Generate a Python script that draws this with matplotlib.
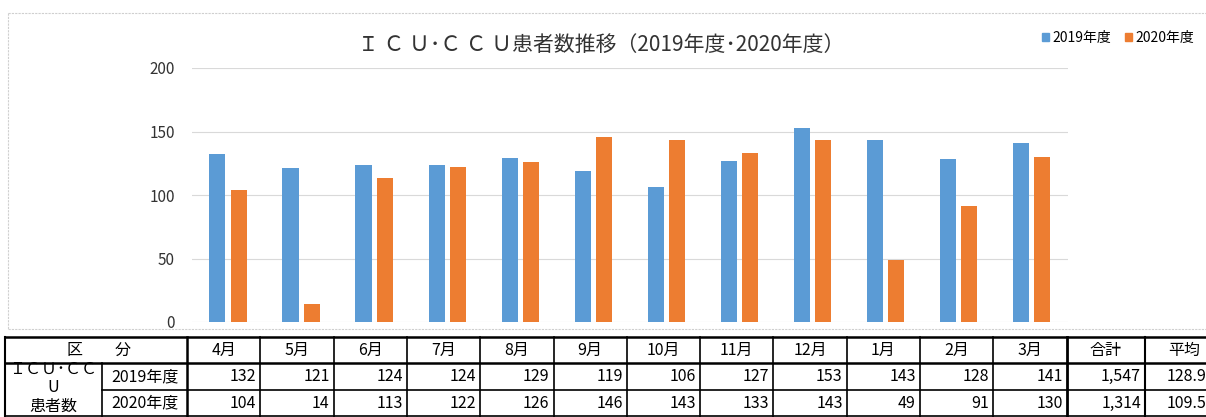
import matplotlib.pyplot as plt
from matplotlib.lines import Line2D
from matplotlib.patches import Patch

plt.rcParams['font.family'] = ['Noto Sans CJK JP', 'DejaVu Sans']

# データ
months = ["4月", "5月", "6月", "7月", "8月", "9月", "10月", "11月", "12月", "1月", "2月", "3月"]
series_names = ["2019年度", "2020年度"]
v2019 = [132, 121, 124, 124, 129, 119, 106, 127, 153, 143, 128, 141]
v2020 = [104, 14, 113, 122, 126, 146, 143, 133, 143, 49, 91, 130]
totals = ["1,547", "1,314"]
averages = ["128.9", "109.5"]
yticks = [0, 50, 100, 150, 200]

blue = "#5B9BD5"
orange = "#ED7D31"

W, H = 1206, 417
fig = plt.figure(figsize=(W / 100, H / 100), dpi=100)


def fx(px):
    return px / W


def fy(py):
    return 1 - py / H


# グラフ
ax = fig.add_axes([fx(191.5), fy(322), fx(1068) - fx(191.5), fy(68) - fy(322)])
x = list(range(len(months)))
ax.bar([i - 0.145 for i in x], v2019, width=0.22, color=blue, zorder=3)
ax.bar([i + 0.145 for i in x], v2020, width=0.22, color=orange, zorder=3)
ax.set_xlim(-0.5, len(months) - 0.5)
ax.set_ylim(0, 200)
ax.set_yticks(yticks)
ax.set_xticks([])
ax.grid(axis="y", color="#d9d9d9", lw=0.8, zorder=0)
for s in ax.spines.values():
    s.set_visible(False)
ax.tick_params(axis="y", length=0, labelsize=11, labelcolor="#333333", pad=12)

fig.text(fx(601), fy(45), "Ｉ Ｃ Ｕ･Ｃ Ｃ Ｕ患者数推移（2019年度･2020年度）",
         ha="center", va="center", fontsize=15, color="#333333")

handles = [Patch(color=blue), Patch(color=orange)]
fig.legend(handles, series_names, loc="center right", bbox_to_anchor=(fx(1200), fy(38)),
           ncol=2, frameon=False, fontsize=10, handlelength=0.5, handleheight=0.5,
           handletextpad=0.25, columnspacing=1.0, borderaxespad=0)

# グラフ枠
border = dict(color="#cfcfcf", lw=0.8, ls=(0, (2, 1)))
fig.add_artist(Line2D([fx(8), fx(1206)], [fy(13), fy(13)], **border))
fig.add_artist(Line2D([fx(8), fx(8)], [fy(13), fy(329)], **border))
fig.add_artist(Line2D([fx(8), fx(1206)], [fy(329), fy(329)], **border))

# 表
top, hdr, r1, r2 = 337, 363, 390, 416
col0, col1, col2 = 5, 102, 187
cw = 73.3
mcols = [col2 + cw * k for k in range(13)]
c_total = 1145
c_right = 1223


def hline(y, x0, x1, lw=1.8):
    fig.add_artist(Line2D([fx(x0), fx(x1)], [fy(y), fy(y)], color="black", lw=lw))


def vline(xp, y0, y1, lw=1.5):
    fig.add_artist(Line2D([fx(xp), fx(xp)], [fy(y0), fy(y1)], color="black", lw=lw))


hline(top, col0, W)
hline(hdr, col0, W)
hline(r1, col1, W, lw=1.2)
hline(r2, col0, W, lw=1.2)
vline(col0, top, H)
vline(col1, hdr, H, lw=1.2)
vline(col2, top, H, lw=1.8)
for k, xp in enumerate(mcols[1:]):
    vline(xp, top, H, lw=2.0 if k == 11 else 1.2)
vline(c_total, top, H, lw=1.5)

fs = 11.5
fig.text(fx(99), fy(350), "区　　分", ha="center", va="center", fontsize=fs)
for i, m in enumerate(months):
    fig.text(fx((mcols[i] + mcols[i + 1]) / 2), fy(350), m, ha="center", va="center", fontsize=fs)
fig.text(fx((mcols[12] + c_total) / 2), fy(350), "合計", ha="center", va="center", fontsize=fs)
fig.text(fx((c_total + c_right) / 2), fy(350), "平均", ha="center", va="center", fontsize=fs)

fig.text(fx(53), fy(369), "ＩＣＵ･ＣＣ", ha="center", va="center", fontsize=fs)
fig.text(fx(53), fy(388), "U", ha="center", va="center", fontsize=fs)
fig.text(fx(53), fy(406), "患者数", ha="center", va="center", fontsize=fs)

for row, (name, vals, tot, avg) in enumerate(zip(series_names, [v2019, v2020], totals, averages)):
    yc = (hdr + r1) / 2 if row == 0 else (r1 + r2) / 2
    fig.text(fx((col1 + col2) / 2), fy(yc), name, ha="center", va="center", fontsize=fs)
    for i, v in enumerate(vals):
        fig.text(fx(mcols[i + 1] - 4), fy(yc), str(v), ha="right", va="center", fontsize=fs)
    fig.text(fx(c_total - 4), fy(yc), tot, ha="right", va="center", fontsize=fs)
    fig.text(fx(c_right - 17), fy(yc), avg, ha="right", va="center", fontsize=fs)

fig.savefig("out.png", dpi=100)
